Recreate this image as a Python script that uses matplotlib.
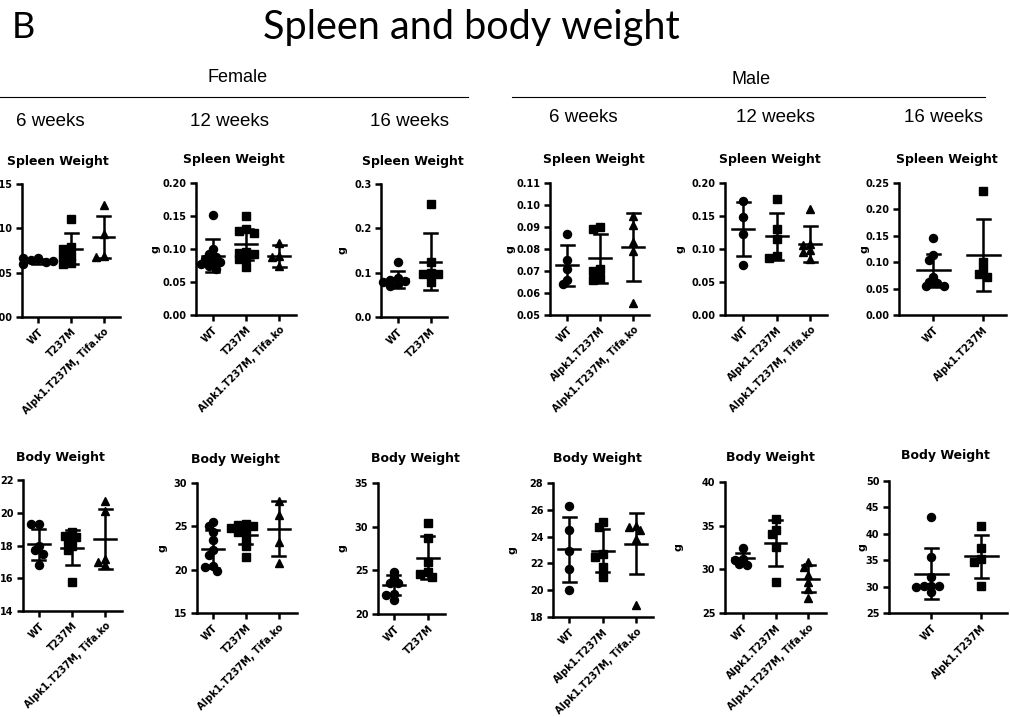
import numpy as np
import matplotlib
matplotlib.use('Agg')
import matplotlib.pyplot as plt
from matplotlib.lines import Line2D
from matplotlib.ticker import FormatStrFormatter

W, H = 1010, 717

# ---------------- data ----------------
groups_f3 = ['WT', 'T237M', 'Alpk1.T237M, Tifa.ko']
groups_f2 = ['WT', 'T237M']
groups_m3 = ['WT', 'Alpk1.T237M', 'Alpk1.T237M, Tifa.ko']
groups_m2 = ['WT', 'Alpk1.T237M']

# spleen weight (g)
f6_spleen = [[0.066, 0.064, 0.062, 0.060, 0.063, 0.067],
             [0.111, 0.079, 0.077, 0.069, 0.068, 0.061, 0.060],
             [0.126, 0.094, 0.069, 0.068]]
f6_spleen_mean = [0.0625, 0.077, 0.090]
f6_spleen_sd = [0.003, 0.0175, 0.0235]

f12_spleen = [[0.152, 0.100, 0.092, 0.088, 0.085, 0.082, 0.080, 0.077, 0.074, 0.070],
              [0.150, 0.130, 0.128, 0.125, 0.095, 0.094, 0.092, 0.086, 0.085, 0.072],
              [0.109, 0.089, 0.088, 0.075]]
f12_spleen_mean = [0.0896, 0.107, 0.089]
f12_spleen_sd = [0.025, 0.024, 0.017]

f16_spleen = [[0.125, 0.088, 0.084, 0.082, 0.078, 0.074, 0.070],
              [0.255, 0.125, 0.100, 0.098, 0.096, 0.080]]
f16_spleen_mean = [0.085, 0.125]
f16_spleen_sd = [0.019, 0.065]

m6_spleen = [[0.087, 0.075, 0.071, 0.066, 0.064],
             [0.090, 0.089, 0.071, 0.070, 0.067, 0.066],
             [0.095, 0.091, 0.083, 0.079, 0.0556]]
m6_spleen_mean = [0.0726, 0.0757, 0.0808]
m6_spleen_sd = [0.0092, 0.0110, 0.0155]

m12_spleen = [[0.172, 0.149, 0.123, 0.076],
              [0.176, 0.130, 0.115, 0.089, 0.087],
              [0.160, 0.108, 0.106, 0.098, 0.095, 0.085]]
m12_spleen_mean = [0.130, 0.119, 0.108]
m12_spleen_sd = [0.041, 0.036, 0.027]

m16_spleen = [[0.146, 0.113, 0.104, 0.072, 0.063, 0.060, 0.055, 0.055],
              [0.235, 0.101, 0.086, 0.077, 0.072]]
m16_spleen_mean = [0.0844, 0.1135]
m16_spleen_sd = [0.0318, 0.068]

# body weight (g)
f6_body = [[19.3, 19.3, 18.0, 17.7, 17.5, 16.8],
           [18.8, 18.6, 18.5, 18.3, 18.0, 17.7, 15.8],
           [20.7, 20.1, 17.2, 17.0, 16.8]]
f6_body_mean = [18.07, 17.87, 18.38]
f6_body_sd = [0.95, 1.07, 1.83]

f12_body = [[25.5, 25.0, 24.4, 23.4, 22.3, 21.7, 20.4, 20.3, 19.9],
            [25.3, 25.2, 25.0, 24.8, 24.6, 24.3, 23.5, 22.7, 21.5],
            [27.9, 26.3, 23.2, 20.8]]
f12_body_mean = [22.4, 24.05, 24.75]
f12_body_sd = [2.15, 1.1, 3.15]

f16_body = [[24.8, 24.1, 23.6, 23.5, 22.3, 22.2, 21.6],
            [30.4, 28.7, 25.9, 24.8, 24.6, 24.2]]
f16_body_mean = [23.3, 26.46]
f16_body_sd = [1.15, 2.45]

m6_body = [[26.3, 24.5, 22.9, 21.6, 20.0],
           [25.1, 24.7, 22.7, 22.5, 21.7, 21.0],
           [24.8, 24.7, 24.5, 23.8, 18.9]]
m6_body_mean = [23.05, 22.95, 23.47]
m6_body_sd = [2.45, 1.6, 2.29]

m12_body = [[32.4, 31.2, 31.1, 30.6, 30.5],
            [35.8, 34.5, 34.0, 32.6, 28.5],
            [30.8, 30.3, 29.3, 28.5, 27.7, 26.7]]
m12_body_mean = [31.25, 33.0, 28.9]
m12_body_sd = [0.65, 2.65, 1.55]

m16_body = [[43.2, 35.6, 31.8, 30.1, 30.1, 30.1, 30.0, 29.0],
            [41.4, 37.3, 35.3, 34.7, 30.1]]
m16_body_mean = [32.45, 35.75]
m16_body_sd = [4.85, 4.05]

# ---------------- layout ----------------
# (data, means, sds, groups, ylim, ytick step, fmt, axes box px (l, r, top, bottom), xlim,
#  title, title centre px, distance of "g" from axis px or None)
panels = [
    (f6_spleen, f6_spleen_mean, f6_spleen_sd, groups_f3, (0, 0.15), 0.05, '%.2f',
     (22, 120, 184, 317), (-0.5, 2.5), 'Spleen Weight', (58, 161), None),
    (f12_spleen, f12_spleen_mean, f12_spleen_sd, groups_f3, (0, 0.20), 0.05, '%.2f',
     (196, 296, 183, 315), (-0.5, 2.5), 'Spleen Weight', (234, 159), 40),
    (f16_spleen, f16_spleen_mean, f16_spleen_sd, groups_f2, (0, 0.3), 0.1, '%.1f',
     (381, 447, 184, 317), (-0.5, 1.5), 'Spleen Weight', (413, 162), 38),
    (m6_spleen, m6_spleen_mean, m6_spleen_sd, groups_m3, (0.05, 0.11), 0.01, '%.2f',
     (550, 649, 183, 315), (-0.52, 2.48), 'Spleen Weight', (594, 159), 40),
    (m12_spleen, m12_spleen_mean, m12_spleen_sd, groups_m3, (0, 0.20), 0.05, '%.2f',
     (725, 827, 183, 315), (-0.54, 2.5), 'Spleen Weight', (770, 159), 45),
    (m16_spleen, m16_spleen_mean, m16_spleen_sd, groups_m2, (0, 0.25), 0.05, '%.2f',
     (899, 1006, 183, 315), (-0.68, 1.46), 'Spleen Weight', (947, 159), 34),
    (f6_body, f6_body_mean, f6_body_sd, groups_f3, (14, 22), 2, '%d',
     (23, 122, 480, 611), (-0.48, 2.5), 'Body Weight', (60, 457), None),
    (f12_body, f12_body_mean, f12_body_sd, groups_f3, (15, 30), 5, '%d',
     (197, 297, 483, 613), (-0.48, 2.55), 'Body Weight', (235, 460), 35),
    (f16_body, f16_body_mean, f16_body_sd, groups_f2, (20, 35), 5, '%d',
     (378, 445, 483, 614), (-0.47, 1.5), 'Body Weight', (415, 459), 36),
    (m6_body, m6_body_mean, m6_body_sd, groups_m3, (18, 28), 2, '%d',
     (553, 653, 483, 617), (-0.48, 2.5), 'Body Weight', (597, 459), 40),
    (m12_body, m12_body_mean, m12_body_sd, groups_m3, (25, 40), 5, '%d',
     (725, 826, 482, 613), (-0.55, 2.55), 'Body Weight', (770, 458), 46),
    (m16_body, m16_body_mean, m16_body_sd, groups_m2, (25, 50), 5, '%d',
     (889, 1007, 481, 613), (-0.84, 1.52), 'Body Weight', (945, 455), 26),
]

markers = ['o', 's', '^']
FONT = 'DejaVu Sans'
LW = 1.8


def swarm(vals, h_px, ylim, px_per_unit, d=7.5):
    # spread overlapping points sideways (dot-plot style), some overlap allowed
    ys = (np.asarray(vals) - ylim[0]) / (ylim[1] - ylim[0]) * h_px
    placed = []
    offs = np.zeros(len(ys))
    for i, y in enumerate(ys):
        for k in [0, -1, 1, -2, 2, -3, 3, -4, 4]:
            x = k * d * 0.5
            if all((x - px) ** 2 + (y - py) ** 2 >= (0.72 * d) ** 2 for px, py in placed):
                break
        placed.append((x, y))
        offs[i] = x / px_per_unit
    return offs


fig = plt.figure(figsize=(W / 100, H / 100), dpi=100)

for (vals, means, sds, groups, ylim, step, fmt, box, xlim, title, tpos, gdist) in panels:
    l, r, t, b = box
    ax = fig.add_axes([l / W, 1 - b / H, (r - l) / W, (b - t) / H])
    ax.set_xlim(*xlim)
    ax.set_ylim(*ylim)
    ppu = (r - l) / (xlim[1] - xlim[0])

    for i, v in enumerate(vals):
        xo = swarm(v, b - t, ylim, ppu)
        ax.plot(i + xo, v, markers[i], color='black', ms=5.8 if i < 2 else 6.3, ls='none',
                clip_on=False, zorder=3)
        m, s = means[i], sds[i]
        cap = 6.5 / ppu
        ax.plot([i, i], [m - s, m + s], color='black', lw=LW, zorder=4, solid_capstyle='butt')
        ax.plot([i - cap, i + cap], [m + s, m + s], color='black', lw=LW, zorder=4)
        ax.plot([i - cap, i + cap], [m - s, m - s], color='black', lw=LW, zorder=4)
        ax.plot([i - 0.33, i + 0.33], [m, m], color='black', lw=LW, zorder=4)

    for sp in ['top', 'right']:
        ax.spines[sp].set_visible(False)
    for sp in ['left', 'bottom']:
        ax.spines[sp].set_linewidth(LW)
    ax.set_yticks(np.arange(ylim[0], ylim[1] + step / 2, step))
    ax.yaxis.set_major_formatter(FormatStrFormatter(fmt))
    ax.set_xticks(range(len(groups)))
    ax.set_xticklabels(groups, rotation=45, ha='right', rotation_mode='anchor')
    ax.tick_params(width=LW, length=4, labelsize=7, pad=3)
    for lab in ax.get_xticklabels() + ax.get_yticklabels():
        lab.set_fontweight('bold')
        lab.set_family(FONT)
    if gdist is not None:
        ax.text(-gdist / (r - l), 0.5, 'g', transform=ax.transAxes, rotation=90,
                ha='center', va='center', fontsize=8, fontweight='bold', family=FONT)
    fig.text(tpos[0] / W, 1 - tpos[1] / H, title, ha='center', va='center',
             fontsize=9, fontweight='bold', family=FONT)

# headers
fig.text(12 / W, 1 - 28 / H, 'B', ha='left', va='center', fontsize=26, family='Lato')
fig.text(471 / W, 1 - 28 / H, 'Spleen and body weight', ha='center', va='center',
         fontsize=28.5, family='Lato')
fig.text(238 / W, 1 - 77 / H, 'Female', ha='center', va='center', fontsize=13,
         family='Liberation Sans')
fig.text(751 / W, 1 - 80 / H, 'Male', ha='center', va='center', fontsize=13,
         family='Liberation Sans')
fig.add_artist(Line2D([0, 468 / W], [1 - 97 / H] * 2, color='black', lw=0.8))
fig.add_artist(Line2D([512 / W, 985 / W], [1 - 97 / H] * 2, color='black', lw=0.8))

ages = ['6 weeks', '12 weeks', '16 weeks', '6 weeks', '12 weeks', '16 weeks']
age_x = [50, 229, 410, 583, 776, 943]
age_y = [121, 121, 121, 118, 118, 118]
for a, x, y in zip(ages, age_x, age_y):
    fig.text(x / W, 1 - y / H, a, ha='center', va='center', fontsize=13.5,
             family='Liberation Sans')

fig.savefig('out.png', dpi=100)
